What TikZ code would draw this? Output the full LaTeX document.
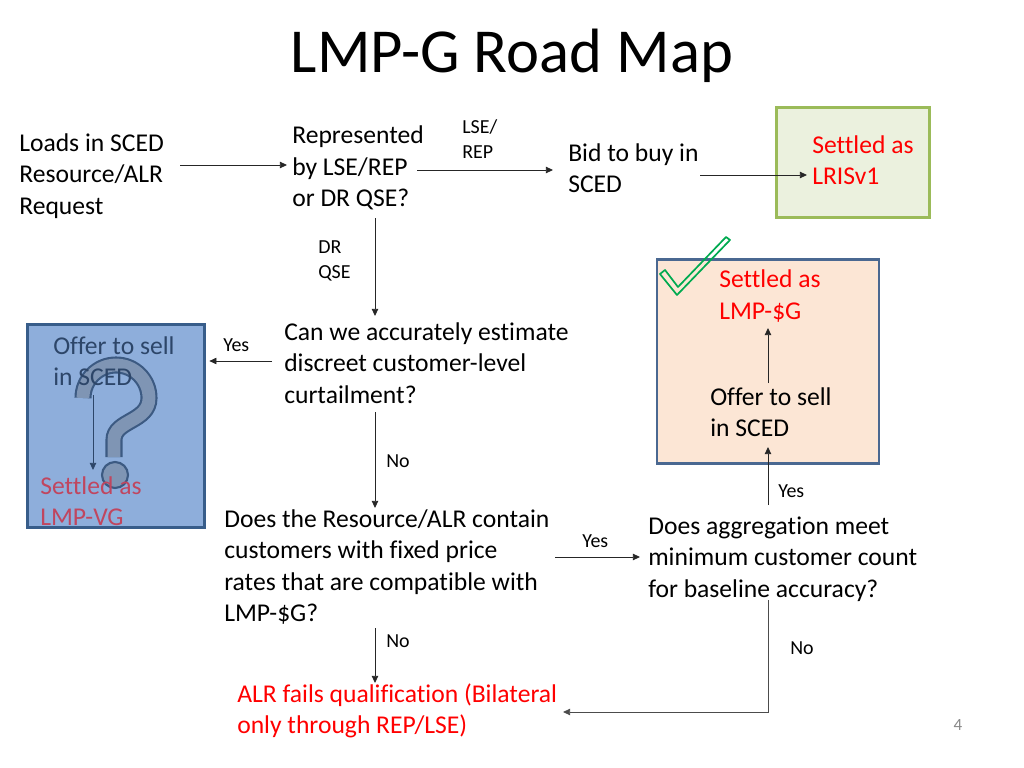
\documentclass[tikz,border=0pt]{standalone}
\usepackage{fontspec}
\setmainfont[Ligatures=NoCommon]{Carlito}
\usepackage{xcolor}
\usetikzlibrary{arrows.meta, calc, positioning}

\definecolor{rosso}{RGB}{255,0,0}
\definecolor{verdef}{RGB}{235,241,222}
\definecolor{verdeb}{RGB}{155,187,89}
\definecolor{bluf}{RGB}{142,174,219}
\definecolor{blub}{RGB}{56,93,138}
\definecolor{blutesto}{RGB}{45,70,105}
\definecolor{rosa}{RGB}{192,70,95}
\definecolor{qfill}{RGB}{127,149,180}
\definecolor{qbordo}{RGB}{60,90,130}
\definecolor{pesca}{RGB}{252,230,213}
\definecolor{pescab}{RGB}{74,104,145}
\definecolor{spunta}{RGB}{0,170,80}
\definecolor{grigio}{RGB}{137,137,137}

\begin{document}
\begin{tikzpicture}[x=0.703pt,y=-0.703pt,
    testo/.style={font=\fontsize{18}{22}\selectfont,align=left,anchor=west,inner sep=0pt},
    piccolo/.style={font=\fontsize{14}{17}\selectfont,align=left,anchor=west,inner sep=0pt},
    freccia/.style={-{Triangle[length=5pt,width=4.5pt]},line width=0.6pt,black!85},
    riquadro/.style={line width=2pt,inner sep=0pt}]
    \useasboundingbox (0,0) rectangle (1024,768);

    % Titolo
    \node[font=\fontsize{44}{53}\selectfont,inner sep=0pt] (titolo) at (512,56) {LMP-G Road Map};

    % Riquadri
    \node[riquadro,draw=verdeb,fill=verdef,minimum width=108pt,minimum height=77pt] (boxlris) at (853,162.5) {};
    \node[riquadro,draw=blub,fill=bluf,minimum width=125pt,minimum height=143pt] (boxvg) at (116,426) {};
    \node[riquadro,draw=pescab,fill=pesca,minimum width=156pt,minimum height=143pt] (boxlmpg) at (768,361.5) {};

    % Punto interrogativo
    \draw[qbordo,double=qfill,double distance=9pt,line width=1.5pt]
        (83,398) arc[start angle=180,end angle=360,radius=33]
        .. controls (149,422) and (114,420) .. (114,440) -- (114,457);
    \draw[qbordo,fill=qfill,line width=1.5pt] (115,475) circle[radius=13];

    % Spunta
    \draw[spunta,line width=1.2pt,line join=round]
        (660,274) -- (677,295) -- (730,240) -- (726,237) -- (678,287) -- (665,270) -- cycle;

    % Testi
    \node[testo] (loads) at (19,176) {Loads in SCED\\Resource/ALR\\Request};
    \node[testo] (repr) at (292,168) {Represented\\by LSE/REP\\or DR QSE?};
    \node[piccolo] (lserep) at (462,139) {LSE/\\REP};
    \node[testo] (bid) at (568,168) {Bid to buy in\\SCED};
    \node[testo,text=rosso] (lris) at (812,160) {Settled as\\LRISv1};
    \node[piccolo] (drqse) at (318,261) {DR\\QSE};
    \node[testo] (stima) at (284,363) {Can we accurately estimate\\discreet customer-level\\curtailment?};
    \node[piccolo] (si1) at (223,345) {Yes};
    \node[testo,text=blutesto] (offerta1) at (53,361) {Offer to sell\\in SCED};
    \node[testo,text=rosa] (vg) at (40,501) {Settled as\\LMP-VG};
    \node[piccolo] (no1) at (386,461) {No};
    \node[testo] (prezzo) at (224,567) {Does the Resource/ALR contain\\customers with fixed price\\rates that are compatible with\\LMP-\$G?};
    \node[piccolo] (si2) at (582,541) {Yes};
    \node[testo] (aggr) at (648,559) {Does aggregation meet\\minimum customer count\\for baseline accuracy?};
    \node[piccolo] (si3) at (778,491) {Yes};
    \node[testo] (offerta2) at (710,412) {Offer to sell\\in SCED};
    \node[testo,text=rosso] (lmpg) at (719,296) {Settled as\\LMP-\$G};
    \node[piccolo] (no2) at (386,641) {No};
    \node[piccolo] (no3) at (790,648) {No};
    \node[testo,text=rosso] (fallita) at (237,711) {ALR fails qualification (Bilateral\\only through REP/LSE)};
    \node[font=\fontsize{12}{14}\selectfont,text=grigio,inner sep=0pt] (pagina) at (958,725) {4};

    % Connessioni
    \draw[freccia] ($(loads.west)+(161,-11)$) -- ($(repr.west)+(-5,-3)$);
    \draw[freccia] ($(repr.west)+(125,2)$) -- ($(bid.west)+(-15,2)$);
    \draw[freccia] ($(bid.west)+(132,7)$) -- ($(lris.west)+(-5,15)$);
    \draw[freccia] ($(repr.west)+(83,50)$) -- ($(stima.west)+(91,-47)$);
    \draw[freccia] ($(stima.west)+(-12,-2)$) -- ($(boxvg.east |- stima.west)+(3,-2)$);
    \draw[freccia,blutesto] ($(offerta1.west)+(40,34)$) -- ($(vg.west)+(53,-31)$);
    \draw[freccia] ($(stima.west)+(91,49)$) -- ($(prezzo.west)+(151,-59)$);
    \draw[freccia] ($(prezzo.west)+(331,-10)$) -- ($(aggr.west)+(-8,-2)$);
    \draw[freccia] ($(aggr.west)+(120,-54)$) -- ($(offerta2.west)+(58,35)$);
    \draw[freccia] ($(offerta2.west)+(58,-29)$) -- ($(lmpg.west)+(49,32)$);
    \draw[freccia] ($(prezzo.west)+(151,61)$) -- ($(fallita.west)+(138,-28)$);
    \draw[freccia,black!70] ($(aggr.west)+(120,41)$) |- ($(fallita.west)+(326,1)$);
\end{tikzpicture}
\end{document}
